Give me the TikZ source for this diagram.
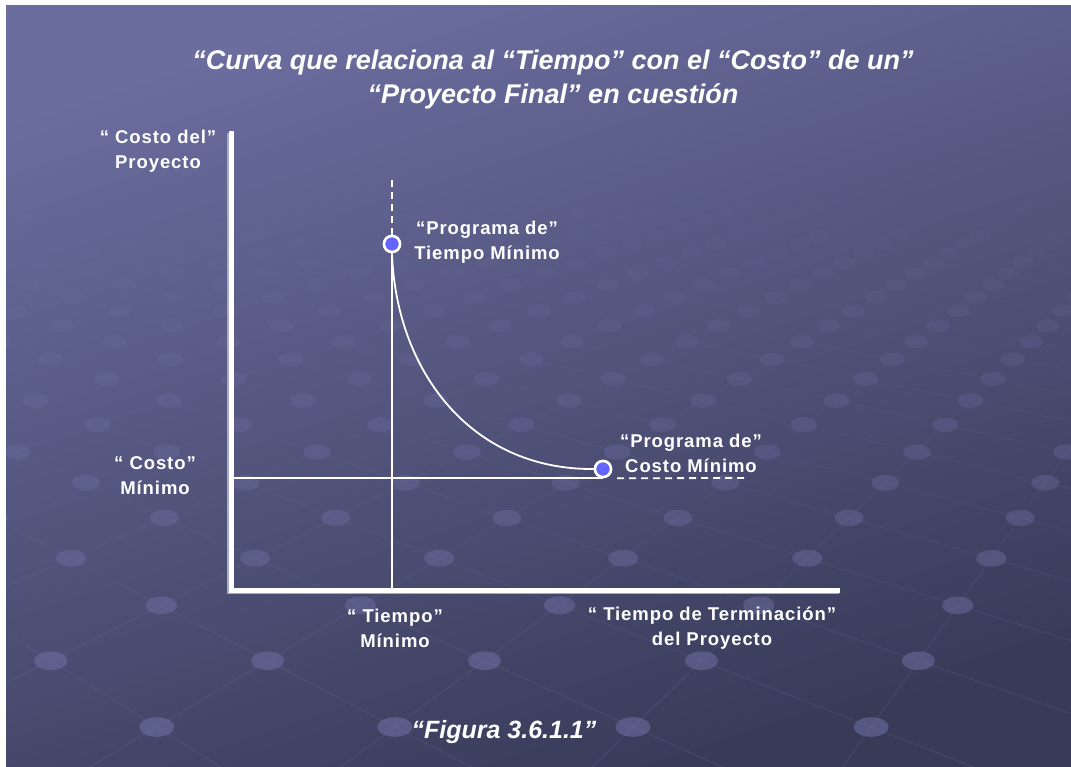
\documentclass[tikz,border=0pt]{standalone}
\usepackage{fontspec}
\setmainfont{Liberation Sans}
\newfontfamily\lblfam[LetterSpace=5]{Liberation Sans Bold}
\usetikzlibrary{calc}
\definecolor{bgtop}{RGB}{106,109,158}
\definecolor{bgbot}{RGB}{56,58,88}
\definecolor{dotc}{RGB}{116,119,172}
\definecolor{markerblue}{RGB}{100,100,255}
\definecolor{shadowc}{RGB}{170,172,190}
\tikzset{
  axisline/.style={white, line width=5pt, line join=miter},
  axisshadow/.style={shadowc, line width=5pt, line join=miter},
  guide/.style={white, line width=1.8pt},
  guidedash/.style={white, line width=1.8pt, dash pattern=on 7pt off 5pt},
  marker/.style={circle, fill=markerblue, draw=white, line width=2.5pt, minimum size=16pt, inner sep=0pt},
  lbl/.style={text=white, font=\lblfam\fontsize{18.5}{25}\selectfont, align=center, inner sep=0pt},
  titletext/.style={text=white, font=\bfseries\itshape\fontsize{27}{34}\selectfont, align=center, inner sep=0pt},
  gridline/.style={dotc, line width=0.7pt},
}
\begin{document}
\begin{tikzpicture}[x=1pt,y=-1pt]
\useasboundingbox (0,0) rectangle (1071,766);
\fill[white] (0,0) rectangle (1071,766);
\begin{scope}
\clip (6,5) rectangle (1071,766);
\shade[top color=bgtop, bottom color=bgbot, shading angle=18] (6,5) rectangle (1071,766);
% perspective lattice: lines
\foreach \k in {-28,...,7} {
  \pgfmathsetmacro\yk{10000/(22.686-1.3182*(\k))-16}
  \pgfmathsetmacro\sk{(\yk+16)/3.12}
  \pgfmathsetmacro\xk{308+0.283*(\yk-420)}
  \pgfmathsetmacro\pk{0.5*(1-abs(mod(\k,2)))}
  \pgfmathsetmacro\yn{10000/(22.686-1.3182*(\k+1))-16}
  \pgfmathsetmacro\sn{(\yn+16)/3.12}
  \pgfmathsetmacro\xn{308+0.283*(\yn-420)}
  \pgfmathtruncatemacro\nmin{floor((-80-\xk)/\sk-\pk)}
  \pgfmathtruncatemacro\nmax{ceil((1150-\xk)/\sk-\pk)}
  \pgfmathsetmacro\op{min(1,max(0,(\yk-170)/520))}
  \foreach \n in {\nmin,...,\nmax} {
    \pgfmathsetmacro\u{\n+\pk}
    \pgfmathsetmacro\xx{\xk+\u*\sk}
    \pgfmathsetmacro\xa{\xn+(\u+0.5)*\sn}
    \pgfmathsetmacro\xb{\xn+(\u-0.5)*\sn}
    \draw[gridline, draw opacity=0.28*\op] (\xx,\yk) -- (\xa,\yn);
    \draw[gridline, draw opacity=0.28*\op] (\xx,\yk) -- (\xb,\yn);
  }
}
% perspective lattice: dots
\foreach \k in {-28,...,7} {
  \pgfmathsetmacro\yk{10000/(22.686-1.3182*(\k))-16}
  \pgfmathsetmacro\sk{(\yk+16)/3.12}
  \pgfmathsetmacro\xk{308+0.283*(\yk-420)}
  \pgfmathsetmacro\pk{0.5*(1-abs(mod(\k,2)))}
  \pgfmathtruncatemacro\nmin{floor((-80-\xk)/\sk-\pk)}
  \pgfmathtruncatemacro\nmax{ceil((1150-\xk)/\sk-\pk)}
  \pgfmathsetmacro\op{min(1,max(0,(\yk-170)/520))}
  \pgfmathsetmacro\rx{7+0.044*\sk}
  \pgfmathsetmacro\ry{0.56*\rx}
  \foreach \n in {\nmin,...,\nmax} {
    \pgfmathsetmacro\xx{\xk+(\n+\pk)*\sk}
    \fill[dotc, fill opacity=0.5*\op] (\xx,\yk) ellipse [x radius=\rx, y radius=\ry];
  }
}
\end{scope}

% title
\node[titletext] (title) at (553,80) {“Curva que relaciona al “Tiempo” con el “Costo” de un”\\“Proyecto Final” en cuestión};

% axes
\coordinate (ytop) at (231,131);
\coordinate (O) at (231,590);
\coordinate (xend) at (840,590);
\draw[axisshadow] ([shift={(-1.5,1.5)}]ytop) -- ([shift={(-1.5,1.5)}]O) -- ([shift={(-1.5,1.5)}]xend);
\draw[axisline] (ytop) -- (O) -- (xend);

% points
\node[marker] (tmin) at (392,244) {};
\node[marker] (cmin) at (603,469) {};
\coordinate (vdashtop) at (392,177);
\coordinate (dashend) at (748,478);

% guides
\draw[guide] (tmin.south) -- (tmin |- O);
\draw[guide] (O |- cmin.south) -- (cmin.south);
\draw[guidedash] (tmin.north) -- (vdashtop);
\draw[guidedash] ([xshift=14]cmin.south) -- (dashend);
\draw[guide] (tmin.south) .. controls (396,370) and (470,470) .. (cmin.west);
\node[marker] at (tmin) {};
\node[marker] at (cmin) {};

% labels
\node[lbl] (ylab) at (158,151) {“ Costo del”\\Proyecto};
\node[lbl] (tminlab) at (487,242) {“Programa de”\\Tiempo Mínimo};
\node[lbl] (cminlab) at (691,453) {“Programa de”\\Costo Mínimo};
\node[lbl] (costlab) at (155,476) {“ Costo”\\Mínimo};
\node[lbl] (timelab) at (395,628) {“ Tiempo”\\Mínimo};
\node[lbl] (xlab) at (712,628) {“ Tiempo de Terminación”\\del Proyecto};
\node[titletext, font=\bfseries\itshape\fontsize{25}{30}\selectfont] (fig) at (504,732) {“Figura 3.6.1.1”};
\end{tikzpicture}
\end{document}
